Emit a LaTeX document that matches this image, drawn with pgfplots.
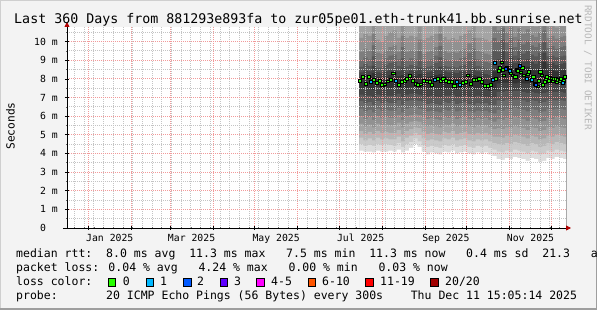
\documentclass[border=0pt]{standalone}
\usepackage{fontspec}
\setmainfont{DejaVu Sans Mono}
\usepackage{pgfplots}
\pgfplotsset{compat=1.18}
\usepackage{pgfplotstable}
\usetikzlibrary{arrows.meta,backgrounds}

\definecolor{bgc}{HTML}{F3F3F3}
\definecolor{shadeA}{HTML}{CFCFCF}
\definecolor{shadeB}{HTML}{9E9E9E}
\definecolor{c1}{HTML}{DDDDDD}
\definecolor{c2}{HTML}{CACACA}
\definecolor{c3}{HTML}{B7B7B7}
\definecolor{c4}{HTML}{A4A4A4}
\definecolor{c5}{HTML}{919191}
\definecolor{c6}{HTML}{7E7E7E}
\definecolor{c7}{HTML}{6B6B6B}
\definecolor{c8}{HTML}{585858}
\definecolor{c9}{HTML}{454545}
\definecolor{c10}{HTML}{323232}
\definecolor{loss0}{HTML}{26FF00}
\definecolor{loss1}{HTML}{00B8FF}
\definecolor{loss2}{HTML}{0059FF}
\definecolor{loss3}{HTML}{5E00FF}
\definecolor{loss5}{HTML}{FF00FF}
\definecolor{loss10}{HTML}{FF5500}
\definecolor{loss19}{HTML}{FF0000}
\definecolor{loss20}{HTML}{A10000}
\definecolor{arrowred}{HTML}{B00000}
\definecolor{majgrid}{HTML}{F29A9A}
\definecolor{mingrid}{HTML}{C4C4C4}

% smoke: sorted ping bands (ms), day index (0 = 1 Jan 2025)
\pgfplotstableread{
d L1 L2 L3 L4 L5 L6 L7 L8 L9 L10 U10 U9 U8 U7 U6 U5
195.5 4.15 4.50 4.85 5.20 5.60 6.00 6.40 6.80 7.15 7.50 8.10 8.35 8.65 9.00 9.45 10.20
198.5 4.10 4.40 4.70 5.05 5.45 5.85 6.25 6.70 7.10 7.50 8.20 8.45 8.80 9.15 9.60 10.40
201.5 4.10 4.45 4.80 5.15 5.55 5.95 6.35 6.75 7.10 7.45 8.15 8.40 8.70 9.05 9.50 10.30
204.5 4.05 4.40 4.70 5.05 5.40 5.80 6.20 6.60 7.00 7.40 8.30 8.70 9.20 9.80 10.40 11.00
207.5 4.15 4.50 4.85 5.20 5.60 6.00 6.40 6.80 7.15 7.55 8.10 8.35 8.60 8.95 9.40 10.10
210.5 4.10 4.45 4.75 5.10 5.50 5.90 6.30 6.70 7.10 7.45 8.05 8.30 8.60 8.95 9.35 10.00
213.5 4.10 4.50 4.80 5.15 5.55 5.95 6.35 6.75 7.10 7.45 8.10 8.40 8.75 9.10 9.55 10.30
216.5 4.15 4.45 4.75 5.10 5.50 5.90 6.30 6.70 7.10 7.50 8.20 8.50 8.85 9.25 9.70 10.50
219.5 4.10 4.40 4.75 5.10 5.50 5.90 6.30 6.70 7.10 7.55 8.30 8.55 8.90 9.30 9.80 10.60
222.5 4.20 4.55 4.90 5.25 5.65 6.05 6.45 6.85 7.20 7.55 8.15 8.40 8.70 9.05 9.45 10.20
225.5 4.05 4.35 4.65 5.00 5.40 5.80 6.20 6.60 7.00 7.40 8.20 8.60 9.10 9.70 10.30 10.90
228.5 4.15 4.50 4.85 5.20 5.60 6.00 6.40 6.80 7.15 7.50 8.10 8.35 8.65 9.00 9.45 10.20
231.5 4.30 4.60 4.95 5.30 5.70 6.05 6.45 6.85 7.20 7.55 8.20 8.45 8.75 9.10 9.55 10.30
234.5 4.50 4.80 5.10 5.40 5.75 6.10 6.50 6.85 7.20 7.55 8.15 8.40 8.70 9.05 9.50 10.25
237.5 4.35 4.65 5.00 5.35 5.70 6.05 6.40 6.80 7.15 7.50 8.25 8.60 9.00 9.50 10.10 10.80
240.5 4.10 4.45 4.80 5.15 5.55 5.95 6.35 6.75 7.10 7.45 8.05 8.30 8.60 8.95 9.35 10.10
243.5 3.95 4.35 4.70 5.05 5.45 5.85 6.25 6.65 7.05 7.45 8.10 8.35 8.65 9.00 9.45 10.20
246.5 4.05 4.40 4.75 5.10 5.50 5.90 6.30 6.70 7.10 7.50 8.15 8.40 8.70 9.05 9.50 10.30
249.5 4.00 4.35 4.70 5.05 5.45 5.85 6.25 6.65 7.05 7.50 8.20 8.50 8.85 9.25 9.70 10.40
252.5 3.95 4.30 4.65 5.00 5.40 5.80 6.20 6.60 7.00 7.40 8.25 8.65 9.15 9.75 10.40 11.00
255.5 4.10 4.45 4.80 5.15 5.55 5.95 6.35 6.75 7.10 7.50 8.15 8.40 8.70 9.05 9.50 10.25
258.5 4.05 4.40 4.75 5.10 5.50 5.90 6.30 6.70 7.10 7.45 8.10 8.35 8.65 9.00 9.40 10.10
261.5 4.15 4.50 4.85 5.20 5.60 6.00 6.40 6.80 7.15 7.50 8.10 8.35 8.65 9.00 9.45 10.20
264.5 4.00 4.35 4.70 5.05 5.45 5.85 6.25 6.65 7.05 7.40 8.05 8.30 8.60 8.95 9.40 10.10
267.5 4.05 4.40 4.75 5.10 5.50 5.90 6.30 6.70 7.05 7.45 8.10 8.40 8.70 9.10 9.55 10.30
270.5 4.10 4.45 4.80 5.15 5.55 5.95 6.35 6.75 7.10 7.45 8.15 8.40 8.75 9.15 9.60 10.40
273.5 4.00 4.35 4.70 5.05 5.45 5.85 6.25 6.65 7.05 7.45 8.25 8.55 8.95 9.40 9.90 10.60
276.5 3.95 4.30 4.65 5.00 5.40 5.80 6.20 6.60 7.00 7.40 8.20 8.60 9.05 9.60 10.20 10.90
279.5 4.05 4.40 4.75 5.10 5.50 5.90 6.30 6.70 7.10 7.50 8.15 8.40 8.70 9.05 9.50 10.20
282.5 4.00 4.35 4.70 5.05 5.45 5.85 6.25 6.65 7.05 7.45 8.10 8.35 8.65 9.00 9.45 10.20
285.5 4.05 4.40 4.75 5.10 5.50 5.90 6.30 6.70 7.05 7.40 8.00 8.25 8.55 8.90 9.35 10.10
288.5 3.95 4.30 4.65 5.00 5.40 5.80 6.20 6.60 7.00 7.35 7.95 8.20 8.50 8.85 9.30 10.00
291.5 3.85 4.20 4.55 4.90 5.30 5.70 6.15 6.60 7.00 7.40 8.40 8.90 9.50 10.20 10.80 11.40
294.5 3.70 4.10 4.50 4.90 5.35 5.85 6.35 6.85 7.30 7.75 8.70 9.05 9.45 10.00 10.60 11.20
297.5 3.65 4.05 4.45 4.85 5.30 5.80 6.30 6.80 7.30 7.80 9.00 9.50 10.10 10.70 11.30 12.00
300.5 3.75 4.15 4.55 4.95 5.40 5.90 6.40 6.90 7.35 7.80 8.65 9.00 9.45 9.95 10.50 11.10
303.5 3.70 4.10 4.50 4.90 5.35 5.85 6.35 6.85 7.30 7.80 8.75 9.15 9.65 10.20 10.80 11.40
306.5 3.80 4.20 4.60 5.00 5.45 5.95 6.45 6.90 7.35 7.75 8.50 8.85 9.25 9.70 10.25 10.90
309.5 3.75 4.15 4.55 4.95 5.40 5.90 6.40 6.90 7.35 7.80 8.70 9.10 9.55 10.10 10.70 11.30
312.5 3.70 4.10 4.50 4.90 5.35 5.85 6.35 6.85 7.30 7.75 8.55 8.90 9.35 9.85 10.40 11.00
315.5 3.60 4.00 4.40 4.80 5.25 5.75 6.25 6.75 7.25 7.75 8.65 9.05 9.50 10.05 10.65 11.30
318.5 3.75 4.15 4.55 4.95 5.40 5.90 6.40 6.85 7.30 7.75 8.55 8.90 9.30 9.80 10.35 11.00
321.5 3.70 4.10 4.50 4.90 5.35 5.85 6.35 6.80 7.25 7.70 8.45 8.80 9.20 9.70 10.25 10.80
324.5 3.55 3.95 4.35 4.75 5.20 5.70 6.20 6.70 7.20 7.70 8.55 8.95 9.40 9.90 10.50 11.10
327.5 3.60 4.00 4.40 4.80 5.25 5.75 6.25 6.75 7.25 7.75 8.90 9.40 10.00 10.60 11.20 11.80
330.5 3.75 4.15 4.55 4.95 5.40 5.90 6.40 6.85 7.30 7.70 8.45 8.80 9.20 9.65 10.20 10.80
333.5 3.70 4.10 4.50 4.90 5.35 5.85 6.35 6.85 7.30 7.75 8.50 8.85 9.25 9.75 10.30 10.90
336.5 3.80 4.20 4.60 5.00 5.45 5.95 6.40 6.85 7.30 7.70 8.40 8.75 9.15 9.60 10.15 10.75
339.5 3.75 4.15 4.55 4.95 5.40 5.90 6.40 6.85 7.30 7.70 8.45 8.80 9.20 9.70 10.25 10.85
342.5 3.70 4.10 4.50 4.90 5.35 5.85 6.35 6.80 7.25 7.70 8.50 8.85 9.25 9.75 10.30 10.90
344.63 3.70 4.10 4.50 4.90 5.35 5.85 6.35 6.80 7.25 7.70 8.50 8.85 9.25 9.75 10.30 10.90
}\smoke

% median rtt (ms), loss 0
\pgfplotstableread{
d m
196 7.90
198 8.10
200 7.75
202 8.10
206 7.95
208 7.80
210 7.90
212 7.70
214 7.72
216 7.88
218 7.95
220 8.30
224 7.70
226 7.85
228 7.90
230 8.00
232 8.15
234 7.90
236 7.75
238 7.70
240 7.72
242 7.90
244 7.88
246 7.85
248 7.70
252 8.00
254 7.90
256 8.00
258 7.90
260 7.85
262 7.85
264 7.62
270 7.80
272 7.85
274 8.20
276 7.75
278 7.95
280 7.95
282 8.00
284 7.85
286 7.65
288 7.65
290 7.70
294 8.00
296 8.45
297 8.60
298 8.90
299 8.50
300 8.20
305 8.30
306 8.20
308 8.10
309 8.50
310 8.45
312 8.35
313 8.60
314 8.20
317 8.25
318 8.40
321 8.10
322 7.75
324 7.60
325 7.90
326 8.40
327 8.20
328 7.70
329 7.85
330 8.00
331 8.10
332 7.90
333 8.05
334 8.00
335 7.90
336 8.00
337 8.00
338 7.85
339 7.95
340 7.90
341 8.00
343 7.90
344 8.10
}\medA

% median rtt (ms), loss 1
\pgfplotstableread{
d m
204 7.85
222 7.90
250 7.95
266 7.85
268 7.68
292 7.95
293 8.85
302 8.60
304 8.45
316 8.00
320 7.95
342 7.80
}\medB

% median rtt (ms), loss 2
\pgfplotstableread{
d m
301 8.55
311 8.70
323 7.70
}\medC

\begin{document}
\begin{tikzpicture}[x=1pt,y=1pt]
\begin{axis}[
  scale only axis, width=499pt, height=201pt,
  xmin=-15.37, xmax=344.63, ymin=0, ymax=10.78,
  axis lines=left,
  axis on top,
  axis background/.style={fill=white},
  axis line style={line width=0.8pt, black},
  x axis line style={-{Triangle[length=5pt,width=5pt,color=arrowred]}, shorten >=-5pt, shorten <=-4pt},
  y axis line style={-{Triangle[length=5pt,width=5pt,color=arrowred]}, shorten >=-5pt},
  xtick={0,31,59,90,120,151,181,212,243,273,304,334},
  xticklabels={},
  minor xtick={-10,-3,...,339},
  extra x ticks={15.5,74.5,135.5,196.5,258,319},
  extra x tick labels={Jan 2025,Mar 2025,May 2025,Jul 2025,Sep 2025,Nov 2025},
  extra x tick style={grid=none, major tick length=0pt,
     xticklabel style={anchor=base, yshift=-13.7pt}},
  ytick={0,1,...,10},
  yticklabels={0\hphantom{\ m},1 m,2 m,3 m,4 m,5 m,6 m,7 m,8 m,9 m,10 m},
  minor ytick={0.5,1.5,...,10.5},
  tick label style={font=\fontsize{9.8}{11}\selectfont, inner sep=0pt},
  yticklabel style={anchor=east, xshift=-7pt},
  grid=both,
  major grid style={majgrid, line width=0.8pt, dash pattern=on 1pt off 1pt},
  minor grid style={mingrid, line width=0.8pt, dash pattern=on 1pt off 1pt},
  tick align=center,
  major tick length=4pt,
  minor tick length=2pt,
  major tick style={black, line width=0.6pt},
  minor tick style={black!60, line width=0.6pt},
  smk/.style={const plot, draw=none, fill=#1},
  med/.style={only marks, mark=square*, mark size=1.35pt, mark options={draw=none, fill=#1, xscale=1.15}},
]
\addplot[draw=none, fill=c4] coordinates {(195.5,12) (344.63,12)} \closedcycle;
\addplot[smk=c5] table[x=d,y=U5] {\smoke} \closedcycle;
\addplot[smk=c6] table[x=d,y=U6] {\smoke} \closedcycle;
\addplot[smk=c7] table[x=d,y=U7] {\smoke} \closedcycle;
\addplot[smk=c8] table[x=d,y=U8] {\smoke} \closedcycle;
\addplot[smk=c9] table[x=d,y=U9] {\smoke} \closedcycle;
\addplot[smk=c10] table[x=d,y=U10] {\smoke} \closedcycle;
\addplot[smk=c9] table[x=d,y=L10] {\smoke} \closedcycle;
\addplot[smk=c8] table[x=d,y=L9] {\smoke} \closedcycle;
\addplot[smk=c7] table[x=d,y=L8] {\smoke} \closedcycle;
\addplot[smk=c6] table[x=d,y=L7] {\smoke} \closedcycle;
\addplot[smk=c5] table[x=d,y=L6] {\smoke} \closedcycle;
\addplot[smk=c4] table[x=d,y=L5] {\smoke} \closedcycle;
\addplot[smk=c3] table[x=d,y=L4] {\smoke} \closedcycle;
\addplot[smk=c2] table[x=d,y=L3] {\smoke} \closedcycle;
\addplot[smk=c1] table[x=d,y=L2] {\smoke} \closedcycle;
\addplot[smk=white] table[x=d,y=L1] {\smoke} \closedcycle;
\addplot[med=loss0] table[x=d,y=m] {\medA};
\addplot[med=loss1] table[x=d,y=m] {\medB};
\addplot[med=loss2] table[x=d,y=m] {\medC};
\coordinate (O) at (rel axis cs:0,0);
\end{axis}

\begin{scope}[shift={(O)}, xshift=-67pt, yshift=-82pt]
\begin{scope}[on background layer]
\fill[bgc] (0,0) rectangle (597,310);
\draw[shadeA, line width=1.5] (0.75,0) -- (0.75,309.25) -- (597,309.25);
\draw[shadeB, line width=1.5] (0,0.75) -- (596.25,0.75) -- (596.25,310);
\end{scope}

\node[anchor=base, inner sep=0pt, font=\fontsize{13.3}{15}\selectfont] at (298.5,286)
  {Last 360 Days from 881293e893fa to zur05pe01.eth-trunk41.bb.sunrise.net};
\node[rotate=90, inner sep=0pt, font=\fontsize{11.2}{13}\selectfont] at (10.5,184) {Seconds};
\node[rotate=-90, inner sep=0pt, text=black!28, font=\fontsize{9.4}{11}\selectfont] at (588,242.5) {RRDTOOL / TOBI OETIKER};

\begin{scope}[every node/.style={anchor=base west, inner sep=0pt, font=\fontsize{11.5}{13}\selectfont}]
\node at (16,52) {median rtt:~~8.0 ms avg~~11.3 ms max~~~7.5 ms min~~11.3 ms now~~~0.4 ms sd~~21.3~~~am/s};
\node at (16,38) {packet loss: 0.04 \% avg~~~4.24 \% max~~~0.00 \% min~~~0.03 \% now};
\node at (16,24) {loss color:};
\node at (122.6,24) {0};
\node at (160,24) {1};
\node at (197,24) {2};
\node at (234,24) {3};
\node at (271,24) {4-5};
\node at (322,24) {6-10};
\node at (380,24) {11-19};
\node at (445,24) {20/20};
\node at (16,10) {probe:~~~~~~~20 ICMP Echo Pings (56 Bytes) every 300s~~~~Thu Dec 11 15:05:14 2025};
\end{scope}
\begin{scope}[draw=black, line width=0.6pt]
\filldraw[fill=loss0] (108,24) rectangle (115.5,31.5);
\filldraw[fill=loss1] (146,24) rectangle (153.5,31.5);
\filldraw[fill=loss2] (183.5,24) rectangle (191,31.5);
\filldraw[fill=loss3] (220,24) rectangle (227.5,31.5);
\filldraw[fill=loss5] (256.5,24) rectangle (264,31.5);
\filldraw[fill=loss10] (308,24) rectangle (315.5,31.5);
\filldraw[fill=loss19] (365.5,24) rectangle (373,31.5);
\filldraw[fill=loss20] (430.5,24) rectangle (438,31.5);
\end{scope}
\pgfresetboundingbox
\useasboundingbox (0,0) rectangle (597,310);
\end{scope}
\end{tikzpicture}
\end{document}
